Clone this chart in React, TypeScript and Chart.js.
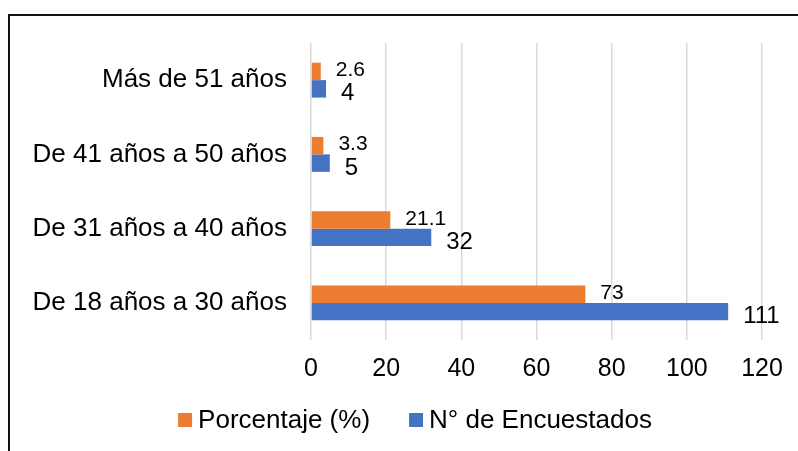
import React, { useEffect, useRef } from "react";
import { Chart, registerables } from "chart.js";

Chart.register(...registerables);

const categories = [
  "Más de 51 años",
  "De 41 años a 50 años",
  "De 31 años a 40 años",
  "De 18 años a 30 años",
];
const porcentaje = [2.6, 3.3, 21.1, 73];
const encuestados = [4, 5, 32, 111];
const seriesNames = ["Porcentaje (%)", "N° de Encuestados"];
const seriesColors = ["#ED7D31", "#4472C4"];
const xTicks = [0, 20, 40, 60, 80, 100, 120];

const FONT = '"Liberation Sans", Arial, Helvetica, sans-serif';

const dataLabels = {
  id: "dataLabels",
  afterDatasetsDraw(chart: any) {
    const ctx = chart.ctx;
    ctx.save();
    ctx.fillStyle = "#000";
    ctx.textAlign = "left";
    ctx.textBaseline = "middle";
    chart.data.datasets.forEach((ds: any, di: number) => {
      const meta = chart.getDatasetMeta(di);
      ctx.font = di === 0 ? `21px ${FONT}` : `24px ${FONT}`;
      meta.data.forEach((el: any, i: number) => {
        const v = ds.data[i];
        const dy = di === 0 ? -1 : 5;
        ctx.fillText(String(v), el.x + 15, el.y + dy);
      });
    });
    ctx.restore();
  },
};

const customLegend = {
  id: "customLegend",
  afterDraw(chart: any) {
    const ctx = chart.ctx;
    ctx.save();
    ctx.font = `26px ${FONT}`;
    ctx.textAlign = "left";
    ctx.textBaseline = "middle";
    const box = 14;
    const gap = 6;
    const itemGap = 39;
    const items = chart.data.datasets.map((ds: any) => ({
      text: ds.label,
      color: ds.backgroundColor,
      w: ctx.measureText(ds.label).width,
    }));
    const total =
      items.reduce((s: number, it: any) => s + box + gap + it.w, 0) +
      itemGap * (items.length - 1);
    let x = 415 - total / 2;
    const y = 420;
    items.forEach((it: any) => {
      ctx.fillStyle = it.color;
      ctx.fillRect(x, y - box / 2, box, box);
      ctx.fillStyle = "#000";
      ctx.fillText(it.text, x + box + gap, y + 1);
      x += box + gap + it.w + itemGap;
    });
    ctx.restore();
  },
};

export default function App() {
  const ref = useRef<HTMLCanvasElement | null>(null);

  useEffect(() => {
    if (!ref.current) return;
    const chart = new Chart(ref.current, {
      type: "bar",
      data: {
        labels: categories,
        datasets: [
          {
            label: seriesNames[0],
            data: porcentaje,
            backgroundColor: seriesColors[0],
            categoryPercentage: 0.47,
            barPercentage: 1,
          },
          {
            label: seriesNames[1],
            data: encuestados,
            backgroundColor: seriesColors[1],
            categoryPercentage: 0.47,
            barPercentage: 1,
          },
        ],
      },
      options: {
        indexAxis: "y",
        responsive: false,
        animation: false,
        devicePixelRatio: 1,
        layout: { padding: { top: 43, right: 36, bottom: 0, left: 0 } },
        plugins: {
          legend: { display: false },
          tooltip: { enabled: false },
        },
        scales: {
          x: {
            type: "linear",
            min: 0,
            max: 120,
            afterBuildTicks: (s: any) => {
              s.ticks = xTicks.map((v) => ({ value: v }));
            },
            afterFit: (s: any) => {
              s.height = 111;
            },
            grid: {
              color: "#d9d9d9",
              lineWidth: 1.5,
              drawTicks: false,
            },
            border: { display: false },
            ticks: {
              color: "#000",
              font: { family: FONT, size: 25 },
              padding: 14,
              maxRotation: 0,
            },
          },
          y: {
            afterFit: (s: any) => {
              s.width = 311;
            },
            grid: { display: false, drawTicks: false },
            border: { display: false },
            ticks: {
              color: "#000",
              font: { family: FONT, size: 26 },
              padding: 24,
            },
          },
        },
      },
      plugins: [dataLabels, customLegend],
    } as any);
    return () => chart.destroy();
  }, []);

  return (
    <div
      style={{
        position: "absolute",
        left: 0,
        top: 0,
        width: 798,
        height: 451,
        overflow: "hidden",
        background: "#fff",
      }}
    >
      <canvas
        ref={ref}
        width={798}
        height={451}
        style={{ position: "absolute", left: 0, top: 0, width: 798, height: 451 }}
      />
      <div
        style={{
          position: "absolute",
          left: 8,
          top: 14,
          width: 900,
          height: 500,
          borderLeft: "2px solid #111",
          borderTop: "2px solid #111",
          boxSizing: "border-box",
          pointerEvents: "none",
        }}
      />
    </div>
  );
}
